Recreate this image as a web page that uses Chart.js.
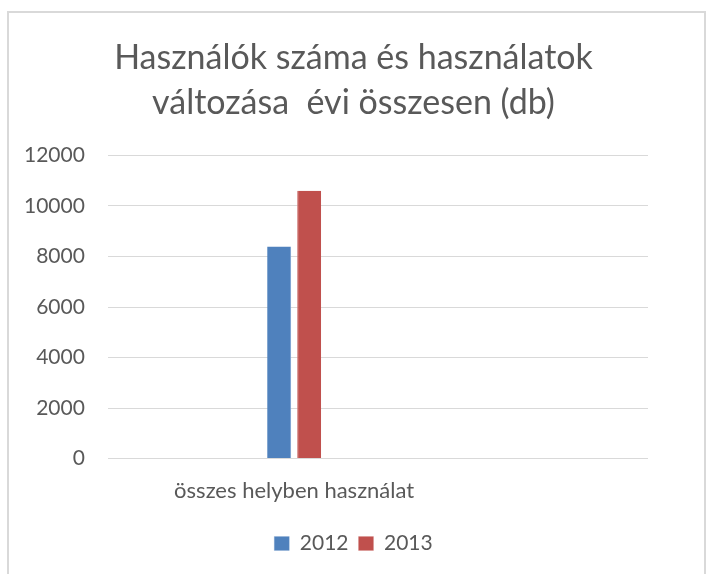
<!DOCTYPE html>
<html lang="hu">
<head>
<meta charset="UTF-8">
<title>Használók száma és használatok</title>
<script src="https://cdn.jsdelivr.net/npm/chart.js@4.4.0/dist/chart.umd.min.js"></script>
<style>
  html, body { margin: 0; padding: 0; background: #fff; overflow: hidden; }
  #wrap { position: relative; width: 706px; height: 574px; }
  #frame {
    position: absolute; left: 7px; top: 11px; right: 0; bottom: -10px;
    border: 2px solid #d9d9d9; box-sizing: border-box; pointer-events: none;
  }
</style>
</head>
<body>
<div id="wrap">
  <canvas id="chart" width="706" height="574"></canvas>
  <div id="frame"></div>
</div>
<script>
// adatok
const kategoriak = ['összes helyben használat'];
const evek = ['2012', '2013'];
const ertekek2012 = [8400];
const ertekek2013 = [10600];
const yTicks = [0, 2000, 4000, 6000, 8000, 10000, 12000];

const szurke = '#595959';
const betu = 'Lato, "Open Sans", sans-serif';

// a kategória az 1-es pozícióra kerül
const pontok = (arr) => arr.map((v, i) => ({ x: i + 1, y: v }));

new Chart(document.getElementById('chart'), {
  type: 'bar',
  data: {
    datasets: [
      {
        label: evek[0],
        data: pontok(ertekek2012),
        backgroundColor: '#4f81bd',
        borderColor: '#7a9fd0',
        borderWidth: { right: 1 },
        borderSkipped: 'start'
      },
      {
        label: evek[1],
        data: pontok(ertekek2013),
        backgroundColor: '#c0504d',
        borderColor: '#d07a78',
        borderWidth: { left: 1 },
        borderSkipped: 'start'
      }
    ]
  },
  options: {
    responsive: false,
    animation: false,
    barPercentage: 0.8,
    categoryPercentage: 0.111,
    layout: { padding: { left: 1, right: 0, top: 0, bottom: 10 } },
    scales: {
      x: {
        type: 'linear',
        min: 0,
        max: 2.9,
        offset: false,
        afterBuildTicks: (axis) => {
          axis.ticks = kategoriak.map((k, i) => ({ value: i + 1 }));
        },
        grid: { display: false, drawTicks: false },
        border: { display: false },
        ticks: {
          color: szurke,
          font: { family: betu, size: 22 },
          padding: 19,
          maxRotation: 0,
          callback: (v) => kategoriak[v - 1] || ''
        }
      },
      y: {
        min: 0,
        max: 12000,
        afterBuildTicks: (axis) => {
          axis.ticks = yTicks.map(v => ({ value: v }));
        },
        grid: { color: '#d9d9d9', drawTicks: false },
        border: { display: false },
        ticks: {
          color: szurke,
          font: { family: betu, size: 21 },
          padding: 23,
          callback: (v) => String(v)
        }
      },
      // üres jobb oldali sáv
      y2: {
        position: 'right',
        grid: { display: false, drawTicks: false },
        border: { display: false },
        ticks: { display: false },
        afterFit: (axis) => { axis.width = 58; }
      }
    },
    plugins: {
      title: {
        display: true,
        text: ['Használók száma és használatok', 'változása  évi összesen (db)'],
        color: szurke,
        font: { family: betu, size: 34, weight: 'normal', lineHeight: 1.33 },
        padding: { top: 35, bottom: 30 }
      },
      legend: {
        position: 'bottom',
        labels: {
          color: szurke,
          font: { family: betu, size: 21 },
          boxWidth: 15,
          boxHeight: 14,
          padding: 10
        }
      },
      tooltip: { enabled: false }
    }
  }
});
</script>
</body>
</html>
